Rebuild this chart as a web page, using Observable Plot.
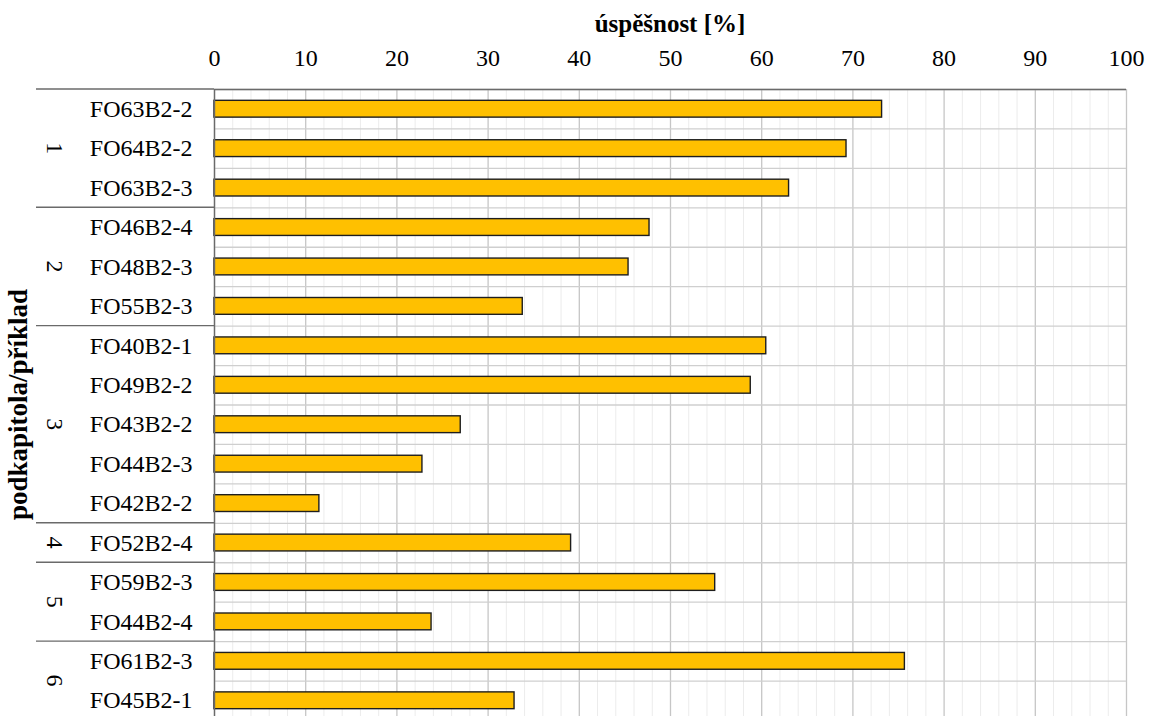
<!DOCTYPE html>
<html>
<head>
<meta charset="utf-8">
<script src="https://cdn.jsdelivr.net/npm/d3@7"></script>
<script src="https://cdn.jsdelivr.net/npm/@observablehq/plot@0.6"></script>
<style>
  html, body { margin: 0; padding: 0; background: #fff; overflow: hidden; }
  #chart svg { display: block; }
</style>
</head>
<body>
<div id="chart"></div>
<script>
// ---- data ----
const categories = ["FO63B2-2","FO64B2-2","FO63B2-3","FO46B2-4","FO48B2-3","FO55B2-3","FO40B2-1","FO49B2-2","FO43B2-2","FO44B2-3","FO42B2-2","FO52B2-4","FO59B2-3","FO44B2-4","FO61B2-3","FO45B2-1"];
const values = [73.2, 69.3, 63.0, 47.7, 45.4, 33.8, 60.5, 58.8, 27.0, 22.8, 11.5, 39.1, 54.9, 23.8, 75.7, 32.9];
const groups = ["1","1","1","2","2","2","3","3","3","3","3","4","5","5","6","6"];
const groupNames = ["1","2","3","4","5","6"];
const xTicks = [0,10,20,30,40,50,60,70,80,90,100];
const xTitle = "úspěšnost [%]";
const yTitle = "podkapitola/příklad";

const data = categories.map((name, i) => ({name, value: values[i], group: groups[i]}));

// ---- layout ----
const W = 1150, H = 720;
const mTop = 89, mLeft = 214, mRight = 24, mBottom = 0;
const bw = (H - mTop - mBottom) / categories.length;
const barH = 16.8;
const inset = (bw - barH) / 2;
const minorTicks = d3.range(0, 101, 2).filter(v => v % 10 !== 0);

const chart = Plot.plot({
  width: W,
  height: H,
  marginTop: mTop,
  marginLeft: mLeft,
  marginRight: mRight,
  marginBottom: mBottom,
  style: {fontFamily: "'Liberation Serif', serif", fontSize: "24px", color: "#000", background: "#fff"},
  x: {domain: [0, 100]},
  y: {domain: categories, padding: 0, round: false},
  marks: [
    Plot.ruleX(minorTicks, {stroke: "#ececec", strokeWidth: 1}),
    Plot.ruleX(xTicks, {stroke: "#c6c6c6", strokeWidth: 1.3}),
    Plot.ruleY(categories, {y: d => d, dy: -bw / 2, stroke: "#cfcfcf", strokeWidth: 1.3}),
    Plot.barX(data, {
      x: "value", y: "name",
      fill: "#FFC000", stroke: "#1e1e1e", strokeWidth: 1.4,
      insetTop: inset, insetBottom: inset
    }),
    Plot.ruleX([0], {stroke: "#6a6a6a", strokeWidth: 1.4}),
    Plot.ruleY([categories[0]], {y: d => d, dy: -bw / 2, stroke: "#6a6a6a", strokeWidth: 1.4}),
    Plot.axisX({anchor: "top", ticks: xTicks, tickSize: 0, tickPadding: 24, label: null, fontSize: 24}),
    Plot.axisY({tickSize: 0, tickPadding: 22, label: null, fontSize: 24})
  ]
});

document.getElementById("chart").appendChild(chart);

// ---- extra annotations drawn with the chart's own scales ----
const svg = d3.select(chart);
const yS = chart.scale("y");
const xS = chart.scale("x");
const sepLeft = 36;
const ann = svg.append("g").attr("font-family", "'Liberation Serif', serif");

groupNames.forEach(g => {
  const idx = categories.map((c, i) => i).filter(i => groups[i] === g);
  const top = yS.apply(categories[idx[0]]);
  const bottom = yS.apply(categories[idx[idx.length - 1]]) + yS.bandwidth;
  ann.append("line")
    .attr("x1", sepLeft).attr("x2", mLeft)
    .attr("y1", top).attr("y2", top)
    .attr("stroke", "#6a6a6a").attr("stroke-width", 1.4);
  const cy = (top + bottom) / 2;
  ann.append("text")
    .attr("transform", `translate(55,${cy}) rotate(90)`)
    .attr("text-anchor", "middle")
    .attr("dominant-baseline", "central")
    .attr("font-size", 24)
    .attr("fill", "#000")
    .text(g);
});

const frameMid = (xS.apply(0) + xS.apply(100)) / 2;
ann.append("text")
  .attr("x", frameMid).attr("y", 32)
  .attr("text-anchor", "middle")
  .attr("font-size", 25).attr("font-weight", "bold")
  .attr("fill", "#000")
  .text(xTitle);

const yMid = (yS.apply(categories[0]) + yS.apply(categories[categories.length - 1]) + yS.bandwidth) / 2;
ann.append("text")
  .attr("transform", `translate(27,${yMid}) rotate(-90)`)
  .attr("text-anchor", "middle")
  .attr("font-size", 27).attr("font-weight", "bold")
  .attr("fill", "#000")
  .text(yTitle);
</script>
</body>
</html>
